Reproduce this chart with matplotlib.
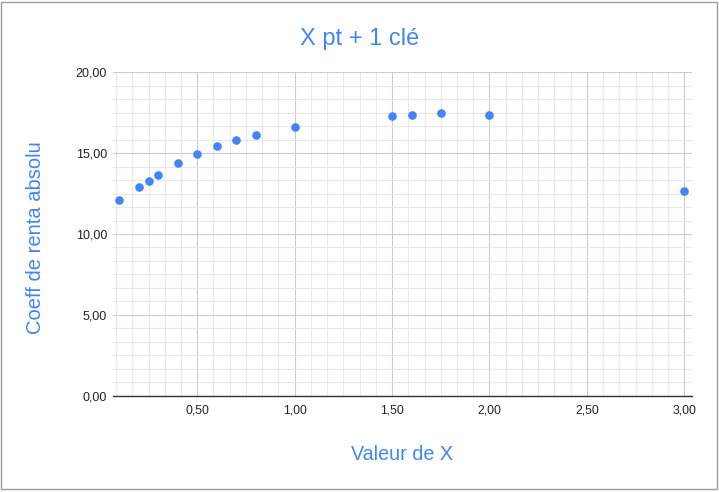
import matplotlib
matplotlib.use("Agg")
import matplotlib.pyplot as plt
from matplotlib.ticker import MultipleLocator, FuncFormatter
from matplotlib.patches import Rectangle

plt.rcParams["font.family"] = ["Liberation Sans", "DejaVu Sans"]

# values
x_values = [0.1, 0.2, 0.25, 0.3, 0.4, 0.5, 0.6, 0.7, 0.8, 1.0, 1.5, 1.6, 1.75, 2.0, 3.0]
y_values = [12.08, 12.93, 13.30, 13.65, 14.37, 14.93, 15.42, 15.81, 16.14, 16.64,
            17.28, 17.38, 17.46, 17.36, 12.64]

title = "X pt + 1 clé"
x_label = "Valeur de X"
y_label = "Coeff de renta absolu"

BLUE = "#4285F4"

fig = plt.figure(figsize=(7.19, 4.92), dpi=100)
ax = fig.add_axes([0.1567, 0.1957, 0.9620 - 0.1567, 0.853 - 0.1957])

ax.plot(x_values, y_values, "o", color=BLUE, markersize=6.2, markeredgewidth=0, zorder=3)

ax.set_xlim(0.066, 3.038)
ax.set_ylim(0, 20)

ax.xaxis.set_major_locator(MultipleLocator(0.5))
ax.xaxis.set_minor_locator(MultipleLocator(0.5 / 6))
ax.yaxis.set_major_locator(MultipleLocator(5))
ax.yaxis.set_minor_locator(MultipleLocator(5 / 6))

comma = FuncFormatter(lambda v, pos: f"{v:.2f}".replace(".", ","))
ax.xaxis.set_major_formatter(comma)
ax.yaxis.set_major_formatter(comma)

ax.grid(which="major", color="#cccccc", linewidth=0.8)
ax.grid(which="minor", color="#e8e8e8", linewidth=0.8)
ax.set_axisbelow(True)

for side in ["top", "right", "left"]:
    ax.spines[side].set_visible(False)
ax.spines["bottom"].set_color("#333333")
ax.spines["bottom"].set_linewidth(1.0)
ax.spines["bottom"].set_zorder(2)

ax.tick_params(which="both", length=0, labelcolor="#222222")
ax.tick_params(axis="x", pad=6, labelsize=8.7)
ax.tick_params(axis="y", pad=4, labelsize=9)

# title centred on the figure, x label centred on the plot area
fig.text(0.5, 1 - 39 / 492, title, ha="center", va="center", fontsize=17, color=BLUE)
ax.text(0.5, 1 - 454 / 492, x_label, transform=fig.transFigure, ha="center", va="center",
        fontsize=14.2, color=BLUE)
ax.texts[-1].set_x((112.7 + 691.7) / 2 / 719)
fig.text(36 / 719, 1 - 238 / 492, y_label, ha="center", va="center", rotation=90,
         fontsize=14.5, color=BLUE)

fig.patches.append(Rectangle((0.0007, 0.0055), 0.997, 0.991, transform=fig.transFigure,
                             fill=False, edgecolor="#9e9e9e", linewidth=1.0))

fig.savefig("out.png", dpi=100)
